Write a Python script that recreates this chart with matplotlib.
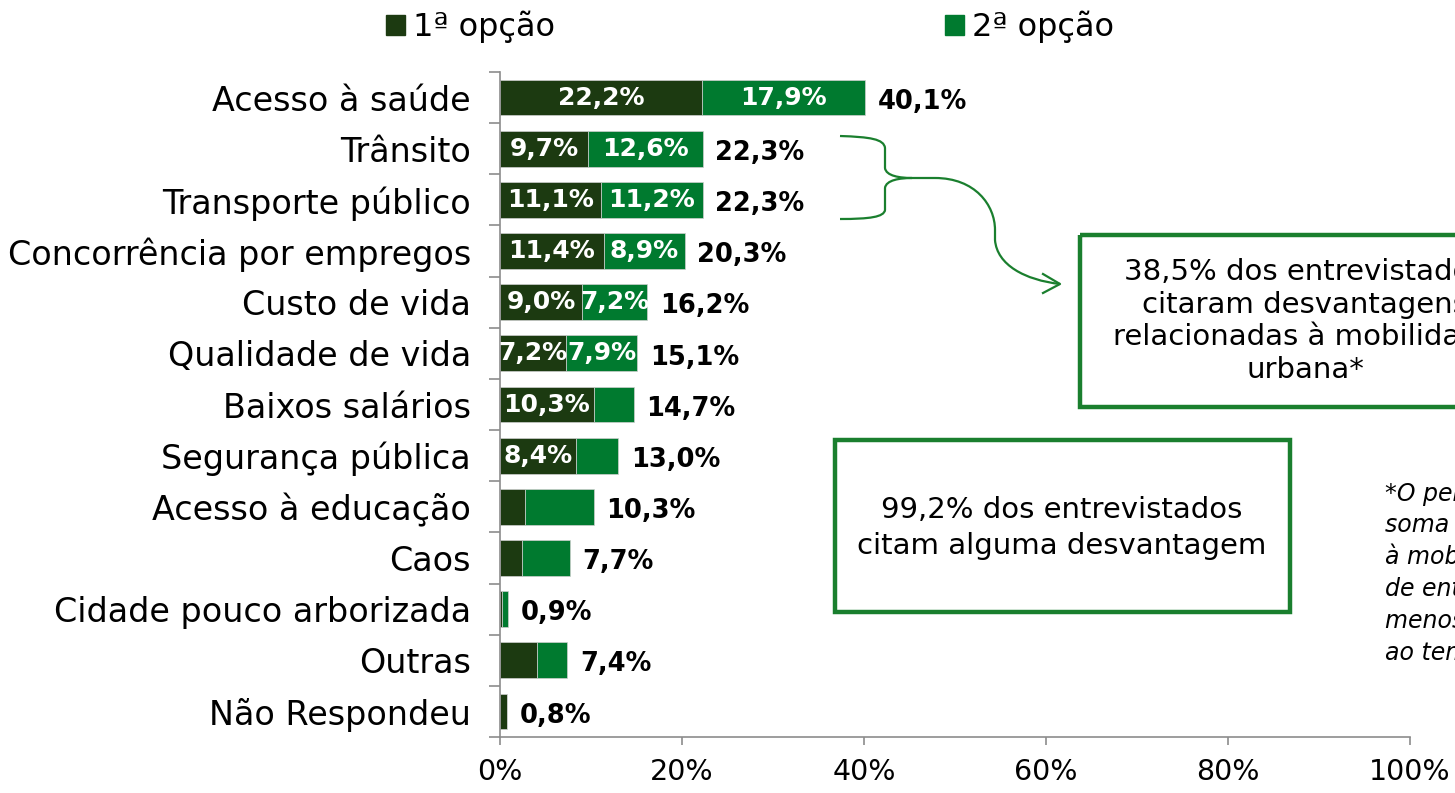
import matplotlib.pyplot as plt
from matplotlib.patches import Patch, Rectangle, PathPatch
from matplotlib.path import Path

categories = ['Acesso à saúde', 'Trânsito', 'Transporte público',
              'Concorrência por empregos', 'Custo de vida', 'Qualidade de vida',
              'Baixos salários', 'Segurança pública', 'Acesso à educação',
              'Caos', 'Cidade pouco arborizada', 'Outras', 'Não Respondeu']
opcao1 = [22.2, 9.7, 11.1, 11.4, 9.0, 7.2, 10.3, 8.4, 2.8, 2.4, 0.2, 4.1, 0.8]
opcao2 = [17.9, 12.6, 11.2, 8.9, 7.2, 7.9, 4.4, 4.6, 7.5, 5.3, 0.7, 3.3, 0.0]
totais = [40.1, 22.3, 22.3, 20.3, 16.2, 15.1, 14.7, 13.0, 10.3, 7.7, 0.9, 7.4, 0.8]
# which segment labels are printed inside the bars
mostra1 = [True] * 8 + [False] * 5
mostra2 = [True] * 6 + [False] * 7

dark = '#1c3a11'
green = '#007a2f'
line_green = '#1a7f2e'

def pct(v):
    return f'{v:.1f}%'.replace('.', ',')

W, H = 1455, 793
fig = plt.figure(figsize=(W / 100, H / 100), dpi=100)
ax = fig.add_axes([500 / W, 1 - 737 / H, 910 / W, 665 / H])

y = list(range(len(categories)))
ax.barh(y, opcao1, height=0.7, color=dark, edgecolor='#cfcfcf', linewidth=0.5)
ax.barh(y, opcao2, left=opcao1, height=0.7, color=green, edgecolor='#cfcfcf', linewidth=0.5)

for i in y:
    if mostra1[i]:
        ax.text(opcao1[i] / 2, i, pct(opcao1[i]), ha='center', va='center',
                color='white', fontsize=18, fontweight='bold')
    if mostra2[i]:
        ax.text(opcao1[i] + opcao2[i] / 2, i, pct(opcao2[i]), ha='center', va='center',
                color='white', fontsize=18, fontweight='bold')
    ax.annotate(pct(totais[i]), (opcao1[i] + opcao2[i], i), xytext=(9, -3),
                textcoords='offset points', ha='left', va='center',
                fontsize=18.5, fontweight='bold', color='black')

ax.set_xlim(0, 100)
ax.set_ylim(len(categories) - 0.5, -0.5)
ax.set_xticks([0, 20, 40, 60, 80, 100])
ax.set_xticklabels([f'{t}%' for t in [0, 20, 40, 60, 80, 100]], fontsize=20.5)
ax.set_yticks(y)
ax.set_yticklabels(categories, fontsize=24)
ax.set_yticks([k - 0.5 for k in range(len(categories) + 1)], minor=True)
ax.tick_params(axis='y', which='major', length=0, pad=21)
ax.tick_params(axis='y', which='minor', length=8, width=1.2, color='#8c8c8c')
ax.tick_params(axis='x', length=6, width=1.2, color='#8c8c8c', pad=9)
ax.spines[['top', 'right']].set_visible(False)
ax.spines[['left', 'bottom']].set_color('#8c8c8c')
ax.spines[['left', 'bottom']].set_linewidth(1.2)

handles = [Patch(color=dark, label='1ª opção'), Patch(color=green, label='2ª opção')]
fig.legend(handles=handles, loc='center left', bbox_to_anchor=(386 / W, 1 - 27 / H),
           ncol=2, frameon=False, fontsize=23, handlelength=0.6, handleheight=0.6,
           handletextpad=0.25, columnspacing=12.2, borderpad=0, borderaxespad=0)

# overlay in pixel coordinates for the annotations
ov = fig.add_axes([0, 0, 1, 1])
ov.set_xlim(0, W)
ov.set_ylim(H, 0)
ov.axis('off')

brace = Path(
    [(840, 136), (870, 137), (884, 139), (885, 148),
     (885, 168),
     (886, 176), (900, 178), (912, 178),
     (900, 178), (886, 180), (885, 188),
     (885, 210),
     (884, 217), (870, 219), (840, 219)],
    [Path.MOVETO, Path.CURVE4, Path.CURVE4, Path.CURVE4,
     Path.LINETO,
     Path.CURVE4, Path.CURVE4, Path.CURVE4,
     Path.CURVE4, Path.CURVE4, Path.CURVE4,
     Path.LINETO,
     Path.CURVE4, Path.CURVE4, Path.CURVE4])
ov.add_patch(PathPatch(brace, fill=False, edgecolor=line_green, lw=1.6))

curve = Path(
    [(912, 178), (935, 178),
     (975, 178), (995, 205), (995, 230),
     (995, 240),
     (997, 265), (1025, 280), (1060, 284)],
    [Path.MOVETO, Path.LINETO,
     Path.CURVE4, Path.CURVE4, Path.CURVE4,
     Path.LINETO,
     Path.CURVE4, Path.CURVE4, Path.CURVE4])
ov.add_patch(PathPatch(curve, fill=False, edgecolor=line_green, lw=1.6))
ov.plot([1043, 1060, 1043], [274, 284, 293], color=line_green, lw=1.6)

ov.add_patch(Rectangle((1080, 235), 460, 172, fill=False, edgecolor=line_green, lw=3.2))
ov.text(1305, 321, '38,5% dos entrevistados\ncitaram desvantagens\nrelacionadas à mobilidade\nurbana*',
        ha='center', va='center', fontsize=21, linespacing=1.22)

ov.add_patch(Rectangle((835, 440), 455, 172, fill=False, edgecolor=line_green, lw=3.2))
ov.text(1062, 528, '99,2% dos entrevistados\ncitam alguma desvantagem',
        ha='center', va='center', fontsize=21, linespacing=1.35)

ov.text(1385, 480, '*O percentual é a\nsoma das citações\nà mobilidade, sem\nde entrevistados\nmenos duplicidade\nao tema',
        ha='left', va='top', fontsize=17, style='italic', fontweight='medium',
        linespacing=1.42)

fig.savefig('out.png', dpi=100)
